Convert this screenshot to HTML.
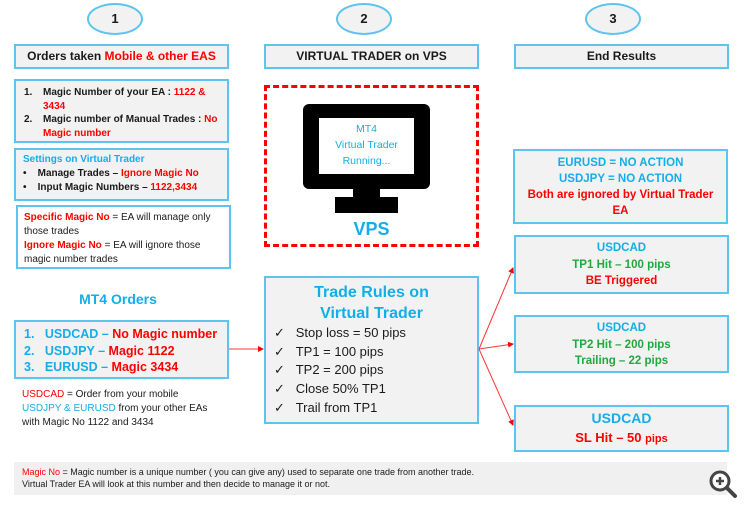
<!DOCTYPE html>
<html><head><meta charset="utf-8"><style>
body{margin:0;width:750px;height:511px;background:#fff;position:relative;overflow:hidden;font-family:"Liberation Sans",sans-serif;color:#1a1a1a}
.a{position:absolute;box-sizing:border-box}
.bx{background:#f2f2f2;border:2px solid #5cc4ee}
.ov{border:2px solid #5cc4ee;border-radius:50%;background:#f2f2f2;width:56px;height:32px;font-weight:bold;font-size:13px;text-align:center;line-height:28px;top:3px}
.hd{font-weight:bold;font-size:12px;text-align:center;line-height:20px;top:44px;height:25px;width:215px}
.r{color:#f00}.b{color:#13aeea}.g{color:#1faa3c}
b{font-weight:bold}
.c{text-align:center}
</style></head><body>
<div class="a ov" style="left:87px">1</div>
<div class="a ov" style="left:336px">2</div>
<div class="a ov" style="left:585px">3</div>
<div class="a bx hd" style="left:14px">Orders taken <span class="r">Mobile &amp; other EAS</span></div>
<div class="a bx hd" style="left:264px">VIRTUAL TRADER on VPS</div>
<div class="a bx hd" style="left:514px">End Results</div>

<div class="a bx" style="left:14px;top:79px;width:215px;height:64px;font-size:10px;font-weight:bold;line-height:13.5px;padding:5px 4px 0 8px">
<div style="display:flex"><span style="width:19px">1.</span><span style="flex:1">Magic Number of your EA : <span class="r">1122 &amp; 3434</span></span></div>
<div style="display:flex"><span style="width:19px">2.</span><span style="flex:1">Magic number of Manual Trades : <span class="r">No Magic number</span></span></div>
</div>
<div class="a bx" style="left:14px;top:148px;width:215px;height:53px;font-size:10px;font-weight:bold;line-height:14px;padding:3px 4px 0 7px">
<div class="b">Settings on Virtual Trader</div>
<div>•&nbsp;&nbsp;&nbsp;&nbsp;Manage Trades – <span class="r">Ignore Magic No</span></div>
<div>•&nbsp;&nbsp;&nbsp;&nbsp;Input Magic Numbers – <span class="r">1122,3434</span></div>
</div>
<div class="a" style="left:16px;top:205px;width:215px;height:64px;border:2px solid #5cc4ee;background:#fff;font-size:10px;line-height:14px;padding:4px 4px 0 6px">
<b class="r">Specific Magic No</b> = EA will manage only those trades<br><b class="r">Ignore Magic No</b> = EA will ignore those magic number trades
</div>
<div class="a b c" style="left:14px;top:291px;width:208px;font-size:14px;font-weight:bold">MT4 Orders</div>
<div class="a bx" style="left:14px;top:320px;width:215px;height:59px;font-size:12.5px;font-weight:bold;line-height:16.5px;padding:4px 0 0 8px">
<div><span class="b">1.&nbsp;&nbsp;&nbsp;USDCAD – </span><span class="r">No Magic number</span></div>
<div><span class="b">2.&nbsp;&nbsp;&nbsp;USDJPY – </span><span class="r">Magic 1122</span></div>
<div><span class="b">3.&nbsp;&nbsp;&nbsp;EURUSD – </span><span class="r">Magic 3434</span></div>
</div>
<div class="a" style="left:22px;top:388px;width:220px;font-size:10px;line-height:14px">
<span class="r">USDCAD</span> = Order from your mobile<br><span class="b">USDJPY &amp; EURUSD</span> from your other EAs<br>with Magic No 1122 and 3434
</div>
<div class="a" style="left:14px;top:462px;width:713px;height:33px;background:#f0f0f0;font-size:9px;line-height:12px;padding:4px 0 0 8px">
<span class="r">Magic No</span> = Magic number is a unique number ( you can give any) used to separate one trade from another trade.<br>Virtual Trader EA will look at this number and then decide to manage it or not.
</div>

<div class="a" style="left:264px;top:85px;width:215px;height:162px;border:3px dashed #f00"></div>
<div class="a" style="left:303px;top:104px;width:127px;height:85px;background:#000;border-radius:6px"></div>
<div class="a b c" style="left:319px;top:118px;width:95px;height:56px;background:#fff;font-size:10.5px;line-height:16px;padding-top:3px">MT4<br>Virtual Trader<br>Running...</div>
<div class="a" style="left:353px;top:186px;width:27px;height:12px;background:#000"></div>
<div class="a" style="left:335px;top:197px;width:63px;height:16px;background:#000"></div>
<div class="a b c" style="left:264px;top:219px;width:215px;font-size:18px;font-weight:bold">VPS</div>

<div class="a bx" style="left:264px;top:276px;width:215px;height:148px;font-size:13px;line-height:18.7px">
<div class="b c" style="font-size:16px;font-weight:bold;line-height:21px;margin-top:4px">Trade Rules on<br>Virtual Trader</div>
<div style="padding-left:8px">✓&nbsp;&nbsp;&nbsp;Stop loss = 50 pips<br>✓&nbsp;&nbsp;&nbsp;TP1 = 100 pips<br>✓&nbsp;&nbsp;&nbsp;TP2 = 200 pips<br>✓&nbsp;&nbsp;&nbsp;Close 50% TP1<br>✓&nbsp;&nbsp;&nbsp;Trail from TP1</div>
</div>

<div class="a bx c" style="left:513px;top:149px;width:215px;height:75px;font-size:11.5px;font-weight:bold;line-height:16px;padding:4px 12px 0">
<span class="b">EURUSD = NO ACTION<br>USDJPY = NO ACTION</span><br><span class="r">Both are ignored by Virtual Trader EA</span></div>
<div class="a bx c" style="left:514px;top:235px;width:215px;height:59px;font-size:11.5px;font-weight:bold;line-height:16.5px;padding-top:3px">
<span class="b">USDCAD</span><br><span class="g">TP1 Hit – 100 pips</span><br><span class="r">BE Triggered</span></div>
<div class="a bx c" style="left:514px;top:315px;width:215px;height:58px;font-size:11.5px;font-weight:bold;line-height:16.5px;padding-top:3px">
<span class="b">USDCAD</span><br><span class="g">TP2 Hit – 200 pips<br>Trailing – 22 pips</span></div>
<div class="a bx c" style="left:514px;top:405px;width:215px;height:47px;font-weight:bold;padding-top:2px">
<div class="b" style="font-size:14px;line-height:19px">USDCAD</div><div class="r" style="font-size:13px;line-height:19px">SL Hit – 50 <span style="font-size:11px">pips</span></div></div>

<svg class="a" style="left:0;top:0" width="750" height="511">
<defs><marker id="m" markerWidth="6" markerHeight="6" refX="5" refY="3" orient="auto"><path d="M0,0L6,3L0,6z" fill="#f00"/></marker></defs>
<g stroke="#f33" stroke-width="1" fill="none" marker-end="url(#m)">
<line x1="229" y1="349" x2="263" y2="349"/>
<line x1="479" y1="349" x2="513" y2="268"/>
<line x1="479" y1="349" x2="513" y2="344"/>
<line x1="479" y1="349" x2="513" y2="425"/>
</g>
<circle cx="720" cy="481" r="9" fill="#fff" stroke="#444" stroke-width="3"/>
<path d="M716 481h8M720 477v8" stroke="#444" stroke-width="2.5"/>
<line x1="727" y1="488" x2="735" y2="496" stroke="#444" stroke-width="4" stroke-linecap="round"/>
</svg>
</body></html>
